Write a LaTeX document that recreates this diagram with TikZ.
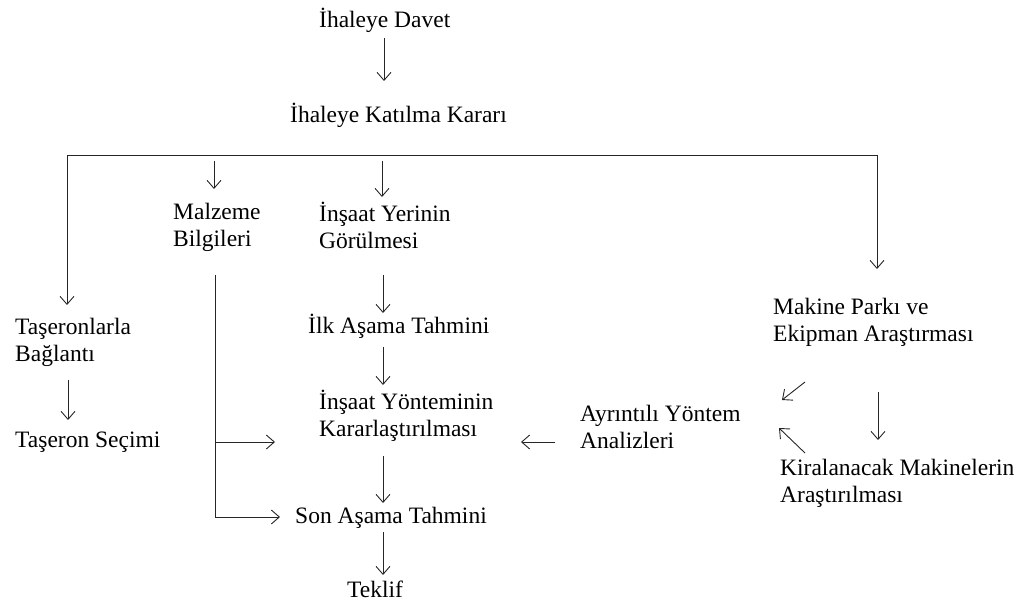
\documentclass[tikz,border=0pt]{standalone}
\usepackage{fontspec}
\setmainfont{Liberation Serif}
\usetikzlibrary{arrows.meta}
\tikzset{
  lbl/.style={anchor=base west, inner sep=0pt, align=left, font=\fontsize{23.5}{27}\selectfont},
  conn/.style={line width=0.9pt, draw=black!85},
  arr/.style={conn, -{Straight Barb[length=8pt,width=14pt,line width=0.9pt]}},
}
\begin{document}
\begin{tikzpicture}[x=1pt,y=-1pt]
\useasboundingbox (0,0) rectangle (1023,601);
% text nodes (base = baseline of last line)
\node[lbl] (davet) at (319,28) {İhaleye Davet};
\node[lbl] (karar) at (290,123) {İhaleye Katılma Kararı};
\node[lbl] (malz) at (173,247) {Malzeme\\Bilgileri};
\node[lbl] (yer) at (319,249) {İnşaat Yerinin\\Görülmesi};
\node[lbl] (taslar) at (15,362) {Taşeronlarla\\Bağlantı};
\node[lbl] (ilk) at (308,334) {İlk Aşama Tahmini};
\node[lbl] (yontem) at (319,437) {İnşaat Yönteminin\\Kararlaştırılması};
\node[lbl] (ayr) at (580,449) {Ayrıntılı Yöntem\\Analizleri};
\node[lbl] (makine) at (773,342) {Makine Parkı ve\\Ekipman Araştırması};
\node[lbl] (kira) at (780,502) {Kiralanacak Makinelerin\\Araştırılması};
\node[lbl] (secim) at (15,447) {Taşeron Seçimi};
\node[lbl] (son) at (295,523) {Son Aşama Tahmini};
\node[lbl] (teklif) at (347,597) {Teklif};
% connector end points
\coordinate (a1s) at (384,38);  \coordinate (a1e) at (384,81);
\coordinate (hl) at (67,155);   \coordinate (hr) at (877,155);
\coordinate (lte) at (67,305);
\coordinate (rte) at (877,269);
\coordinate (m1s) at (214,161); \coordinate (m1e) at (214,189);
\coordinate (y1s) at (382,161); \coordinate (y1e) at (382,197);
\coordinate (mvs) at (215,275); \coordinate (mvm) at (215,442); \coordinate (mvb) at (215,517);
\coordinate (mbe) at (275,442); \coordinate (mse) at (280,517);
\coordinate (g1s) at (383,275); \coordinate (g1e) at (383,313);
\coordinate (i1s) at (383,347); \coordinate (i1e) at (383,385);
\coordinate (k1s) at (383,456); \coordinate (k1e) at (383,503);
\coordinate (s1s) at (383,532); \coordinate (s1e) at (383,575);
\coordinate (t1s) at (68,380);  \coordinate (t1e) at (68,420);
\coordinate (ays) at (555,442); \coordinate (aye) at (521,442);
\coordinate (sws) at (805,382); \coordinate (swe) at (782,400);
\coordinate (nws) at (805,453); \coordinate (nwe) at (779,428);
\coordinate (rvs) at (878,392); \coordinate (rve) at (878,440);
% connectors
\draw[arr] (a1s) -- (a1e);
\draw[conn] (hl) -- (hr);
\draw[arr] (hl) -- (lte);
\draw[arr] (hr) -- (rte);
\draw[arr] (m1s) -- (m1e);
\draw[arr] (y1s) -- (y1e);
\draw[conn] (mvs) -- (mvb);
\draw[arr] (mvm) -- (mbe);
\draw[arr] (mvb) -- (mse);
\draw[arr] (g1s) -- (g1e);
\draw[arr] (i1s) -- (i1e);
\draw[arr] (k1s) -- (k1e);
\draw[arr] (s1s) -- (s1e);
\draw[arr] (t1s) -- (t1e);
\draw[arr] (ays) -- (aye);
\draw[arr] (sws) -- (swe);
\draw[arr] (nws) -- (nwe);
\draw[arr] (rvs) -- (rve);
\end{tikzpicture}
\end{document}
